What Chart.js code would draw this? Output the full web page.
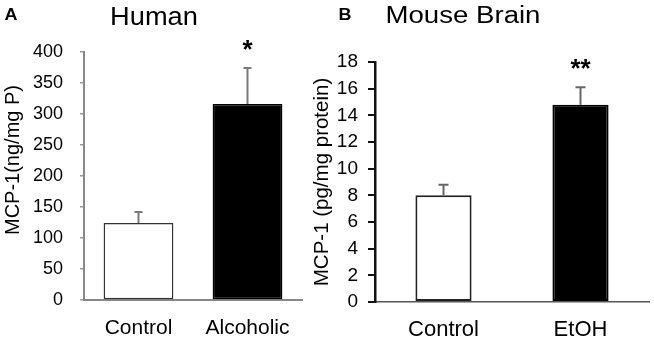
<!DOCTYPE html>
<html><head><meta charset="utf-8">
<script src="https://cdn.jsdelivr.net/npm/chart.js@4/dist/chart.umd.min.js"></script>
<style>
html,body{margin:0;padding:0;background:#fff;overflow:hidden}
#wrap{position:relative;width:654px;height:342px}
canvas{position:absolute;left:0;top:0}
</style></head>
<body><div id="wrap"><canvas id="a" width="654" height="342"></canvas><canvas id="b" width="654" height="342"></canvas></div>
<script>
// ---- data ----
const humanCategories = ['Control', 'Alcoholic'];
const humanMeans = [124, 316];
const humanErrors = [18, 58];
const humanMarks = ['', '*'];
const humanTicks = [0, 50, 100, 150, 200, 250, 300, 350, 400];

const mouseCategories = ['Control', 'EtOH'];
const mouseMeans = [8.0, 14.8];
const mouseErrors = [0.8, 1.3];
const mouseMarks = ['', '**'];
const mouseTicks = [0, 2, 4, 6, 8, 10, 12, 14, 16, 18];

const FONT = "'Liberation Sans', Arial, sans-serif";

const annot = {
  id: 'annot',
  afterDatasetsDraw(chart, args, opts) {
    const ctx = chart.ctx;
    const meta = chart.getDatasetMeta(0);
    const ds = chart.data.datasets[0];
    const y = chart.scales.y;
    ctx.save();
    meta.data.forEach((bar, i) => {
      const v = ds.data[i];
      const top = y.getPixelForValue(v + opts.errors[i]);
      const base = y.getPixelForValue(v);
      ctx.strokeStyle = opts.errColor;
      ctx.lineWidth = opts.errWidth;
      ctx.beginPath();
      ctx.moveTo(bar.x, base);
      ctx.lineTo(bar.x, top);
      ctx.moveTo(bar.x - opts.cap, top);
      ctx.lineTo(bar.x + opts.cap, top);
      ctx.stroke();
      if (opts.marks[i]) {
        ctx.fillStyle = '#000';
        ctx.font = opts.markFont;
        ctx.textAlign = 'center';
        ctx.textBaseline = 'alphabetic';
        ctx.fillText(opts.marks[i], bar.x, top - opts.markGap);
      }
    });
    (opts.texts || []).forEach(t => {
      ctx.save();
      ctx.translate(t.x, t.y);
      if (t.rot) ctx.rotate(t.rot);
      if (t.sx) ctx.scale(t.sx, 1);
      ctx.font = t.font;
      ctx.fillStyle = '#000';
      ctx.textAlign = 'center';
      ctx.textBaseline = 'alphabetic';
      ctx.fillText(t.text, 0, 0);
      ctx.restore();
    });
    ctx.restore();
  }
};

function setTicks(list) {
  return function (scale) { scale.ticks = list.map(v => ({ value: v })); };
}

new Chart(document.getElementById('a'), {
  type: 'bar',
  data: {
    labels: humanCategories,
    datasets: [{
      data: humanMeans,
      backgroundColor: ['#ffffff', '#000000'],
      borderColor: ['#333333', '#000000'],
      borderWidth: 1.5,
      borderSkipped: false,
      barPercentage: 0.64,
      categoryPercentage: 1
    }]
  },
  options: {
    responsive: false, animation: false, devicePixelRatio: 1,
    layout: { padding: { left: 0, right: 352, top: 52, bottom: 0 } },
    plugins: {
      legend: { display: false }, tooltip: { enabled: false },
      annot: {
        errors: humanErrors, marks: humanMarks, errColor: '#7a7a7a', errWidth: 2, cap: 4,
        markFont: 'bold 26px ' + FONT, markGap: 10,
        texts: [
          { text: 'A', x: 11, y: 20, font: 'bold 16px ' + FONT, sx: 1.12 },
          { text: 'Human', x: 154, y: 25, font: '25px ' + FONT, sx: 1.09 },
          { text: 'MCP-1(ng/mg P)', x: 19, y: 160, rot: -Math.PI / 2, font: '20px ' + FONT }
        ]
      }
    },
    scales: {
      x: {
        grid: { display: false },
        border: { color: '#888888', width: 2 },
        ticks: { font: { family: FONT, size: 21 }, color: '#000', padding: 8 },
        afterFit(s) { s.height = 42; }
      },
      y: {
        min: 0, max: 400,
        afterBuildTicks: setTicks(humanTicks),
        ticks: { font: { family: FONT, size: 18 }, color: '#000', padding: 17 },
        grid: { drawOnChartArea: false, color: '#999999', lineWidth: 1.5, tickLength: 4 },
        border: { color: '#888888', width: 2 },
        afterFit(s) { s.width = 84; }
      }
    }
  },
  plugins: [annot]
});

new Chart(document.getElementById('b'), {
  type: 'bar',
  data: {
    labels: mouseCategories,
    datasets: [{
      data: mouseMeans,
      backgroundColor: ['#ffffff', '#000000'],
      borderColor: ['#222222', '#000000'],
      borderWidth: 2,
      borderSkipped: false,
      barPercentage: 0.41,
      categoryPercentage: 1
    }]
  },
  options: {
    responsive: false, animation: false, devicePixelRatio: 1,
    layout: { padding: { left: 0, right: 5, top: 62, bottom: 0 } },
    plugins: {
      legend: { display: false }, tooltip: { enabled: false },
      annot: {
        errors: mouseErrors, marks: mouseMarks, errColor: '#666666', errWidth: 2, cap: 5,
        markFont: 'bold 26px ' + FONT, markGap: 10,
        texts: [
          { text: 'B', x: 345, y: 20, font: 'bold 16px ' + FONT, sx: 1.12 },
          { text: 'Mouse Brain', x: 463, y: 23, font: '23px ' + FONT, sx: 1.2 },
          { text: 'MCP-1 (pg/mg protein)', x: 328, y: 182, rot: -Math.PI / 2, font: '20.5px ' + FONT }
        ]
      }
    },
    scales: {
      x: {
        grid: { display: false },
        border: { color: '#555555', width: 1.5 },
        ticks: { font: { family: FONT, size: 22 }, color: '#000', padding: 7 },
        afterFit(s) { s.height = 40; }
      },
      y: {
        min: 0, max: 18,
        afterBuildTicks: setTicks(mouseTicks),
        ticks: { font: { family: FONT, size: 19 }, color: '#000', padding: 10 },
        grid: { drawOnChartArea: false, color: '#111111', lineWidth: 2, tickLength: 7 },
        border: { color: '#111111', width: 2.5 },
        afterFit(s) { s.width = 375; }
      }
    }
  },
  plugins: [annot]
});
</script>
</body></html>
